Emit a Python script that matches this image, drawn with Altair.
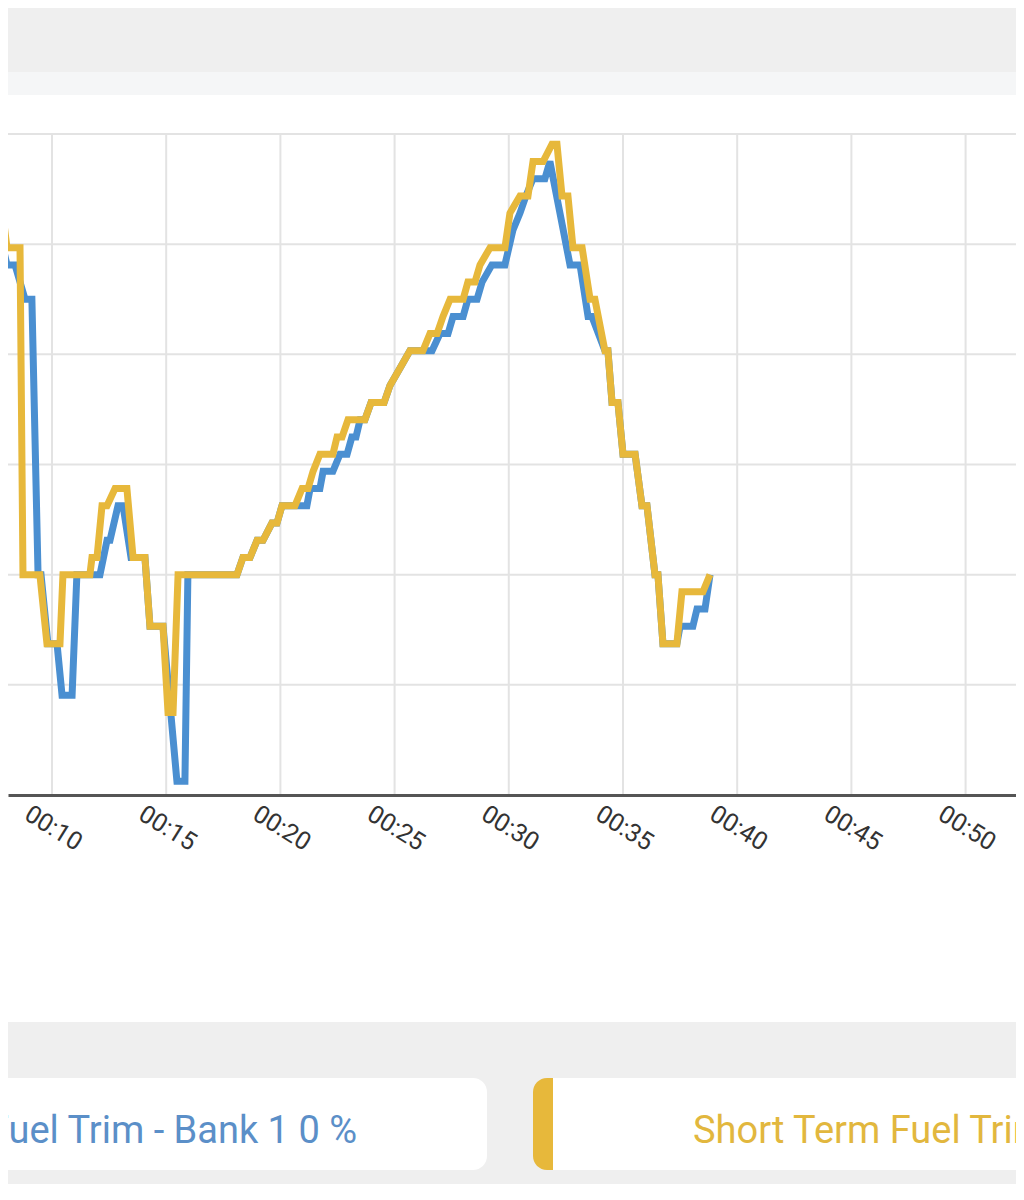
import altair as alt
import pandas as pd

# ---- data (time in seconds, fuel trim in %) ----
gold_t = [7.55, 8.03, 8.60, 8.73, 9.47, 9.78, 10.35, 10.48, 11.66, 11.75, 11.97, 12.19, 12.41, 12.76,
          13.28, 13.55, 14.07, 14.29, 14.86, 15.08, 15.30, 15.52, 18.10, 18.36, 18.67, 18.98, 19.24,
          19.63, 19.85, 20.07, 20.64, 20.95, 21.21, 21.43, 21.73, 22.30, 22.48, 22.70, 22.96, 23.70,
          23.97, 24.54, 24.80, 25.24, 25.67, 26.24, 26.55, 26.86, 27.12, 27.43, 28.00, 28.21, 28.52,
          28.74, 29.18, 29.83, 30.05, 30.49, 30.84, 31.06, 31.50, 31.89, 32.11, 32.33, 32.59, 32.81,
          33.21, 33.56, 33.77, 34.21, 34.34, 34.52, 34.78, 35.00, 35.53, 35.83, 36.05, 36.40, 36.53,
          36.75, 37.36, 37.58, 38.50, 38.81]
gold_v = [18.75, 14.84, 14.84, 0, 0, -3.13, -3.13, 0, 0, 0.78, 0.78, 3.13, 3.13, 3.91, 3.91, 0.78,
          0.78, -2.34, -2.34, -6.25, -6.25, 0, 0, 0.78, 0.78, 1.56, 1.56, 2.34, 2.34, 3.13, 3.13, 3.91,
          3.91, 4.69, 5.47, 5.47, 6.25, 6.25, 7.03, 7.03, 7.81, 7.81, 8.59, 9.38, 10.16, 10.16, 10.94,
          10.94, 11.72, 12.5, 12.5, 13.28, 13.28, 14.06, 14.84, 14.84, 16.41, 17.19, 17.19, 18.75,
          18.75, 19.53, 19.53, 17.19, 17.19, 14.84, 14.84, 12.5, 12.5, 10.16, 10.16, 7.81, 7.81, 5.47,
          5.47, 3.13, 3.13, 0, 0, -3.13, -3.13, -0.78, -0.78, 0]

blue_t = [7.50, 8.03, 8.38, 8.82, 9.12, 9.39, 9.52, 9.82, 10.22, 10.44, 10.88, 11.09, 12.10, 12.41,
          12.54, 12.89, 13.11, 13.46, 14.07, 14.29, 14.86, 15.47, 15.82, 15.95, 18.10, 18.36, 18.67,
          18.98, 19.24, 19.63, 19.85, 20.07, 21.16, 21.30, 21.73, 21.87, 22.30, 22.61, 22.92, 23.13,
          23.31, 23.49, 23.70, 23.97, 24.54, 24.80, 25.24, 25.67, 26.64, 26.99, 27.34, 27.56, 28.00,
          28.21, 28.61, 28.83, 29.26, 29.83, 30.18, 30.49, 30.75, 31.06, 31.58, 31.80, 32.24, 32.68,
          33.12, 33.47, 33.64, 34.21, 34.34, 34.52, 34.78, 35.00, 35.53, 35.83, 36.05, 36.40, 36.53,
          36.75, 37.36, 37.50, 38.06, 38.24, 38.59, 38.81]
blue_v = [16.41, 14.06, 14.06, 12.5, 12.5, 0, 0, -3.13, -3.13, -5.47, -5.47, 0, 0, 1.56, 1.56, 3.13,
          3.13, 0.78, 0.78, -2.34, -2.34, -9.38, -9.38, 0, 0, 0.78, 0.78, 1.56, 1.56, 2.34, 2.34, 3.13,
          3.13, 3.91, 3.91, 4.69, 4.69, 5.47, 5.47, 6.25, 6.25, 7.03, 7.03, 7.81, 7.81, 8.59, 9.38,
          10.16, 10.16, 10.94, 10.94, 11.72, 11.72, 12.5, 12.5, 13.28, 14.06, 14.06, 15.63, 16.41,
          17.19, 17.97, 17.97, 18.75, 16.41, 14.06, 14.06, 11.72, 11.72, 10.16, 10.16, 7.81, 7.81,
          5.47, 5.47, 3.13, 3.13, 0, 0, -3.13, -3.13, -2.34, -2.34, -1.56, -1.56, 0]

x_ticks = [10, 15, 20, 25, 30, 35, 40, 45, 50]
y_grid = [-5, 0, 5, 10, 15, 20]
legend_labels = ["Short Term Fuel Trim - Bank 1 0 %", "Short Term Fuel Trim - Bank 2 0 %"]

BLUE = "#4a8fd1"
GOLD = "#e7b83b"

xs = alt.Scale(domain=[8.074, 52.207], nice=False, zero=False)
ys = alt.Scale(domain=[-10, 20], nice=False, zero=False)
xaxis = alt.Axis(
    values=x_ticks, grid=False, ticks=False, domain=True, domainColor="#555555", domainWidth=3,
    labelExpr="'00:' + (datum.value < 10 ? '0' : '') + datum.value",
    labelAngle=32, labelAlign="left", labelBaseline="top", labelPadding=6, labelOffset=-19,
    labelFontSize=25, labelColor="#333333", labelFont="Roboto", title=None,
    labelOverlap=False, labelFlush=False, labelBound=False, zindex=1,
)

blank = alt.Data(values=[{}])


def box(x1, x2, y1, y2, color, radius=0):
    return alt.Chart(blank).mark_rect(color=color, cornerRadius=radius).encode(
        x=alt.value(x1), x2=alt.value(x2), y=alt.value(y1), y2=alt.value(y2)
    )


card = box(0, 1008, -39, 888, "white")
strip = box(0, 1008, -62, -39, "#f5f6f7")
blue_card = box(-30, 479, 944, 1036, "white", 14)
gold_bar = box(525, 575, 944, 1036, GOLD, 14)
gold_card = box(545, 1060, 944, 1036, "white")

vgrid = alt.Chart(pd.DataFrame({"t": x_ticks})).mark_rule(color="#e3e3e3", strokeWidth=2).encode(
    x=alt.X("t:Q", scale=xs, axis=xaxis)
)
hgrid = alt.Chart(pd.DataFrame({"v": y_grid})).mark_rule(color="#e3e3e3", strokeWidth=2).encode(
    y=alt.Y("v:Q", scale=ys, axis=None)
)

blue_line = alt.Chart(pd.DataFrame({"t": blue_t, "v": blue_v})).mark_line(
    color=BLUE, strokeWidth=7, clip=True, strokeJoin="miter"
).encode(x=alt.X("t:Q", scale=xs, axis=xaxis), y=alt.Y("v:Q", scale=ys, axis=None))

gold_line = alt.Chart(pd.DataFrame({"t": gold_t, "v": gold_v})).mark_line(
    color=GOLD, strokeWidth=7, clip=True, strokeJoin="miter"
).encode(x=alt.X("t:Q", scale=xs, axis=xaxis), y=alt.Y("v:Q", scale=ys, axis=None))

blue_text = alt.Chart(pd.DataFrame({"label": [legend_labels[0]]})).mark_text(
    align="right", baseline="alphabetic", fontSize=38, font="Roboto", color="#5b8fc8"
).encode(x=alt.value(349), y=alt.value(1009), text="label:N")

gold_text = alt.Chart(pd.DataFrame({"label": [legend_labels[1]]})).mark_text(
    align="left", baseline="alphabetic", fontSize=38, font="Roboto", color="#e2b73e"
).encode(x=alt.value(685), y=alt.value(1009), text="label:N")

chart = alt.layer(
    card, strip, blue_card, gold_bar, gold_card, vgrid, hgrid, blue_line, gold_line,
    blue_text, gold_text
).properties(
    width=1008, height=661,
    padding={"left": 0, "right": 0, "top": 126, "bottom": 389},
    autosize="none",
    background="#efefef",
).configure_view(stroke=None)

chart.save("out.html", embed_options={"renderer": "svg", "actions": False})
